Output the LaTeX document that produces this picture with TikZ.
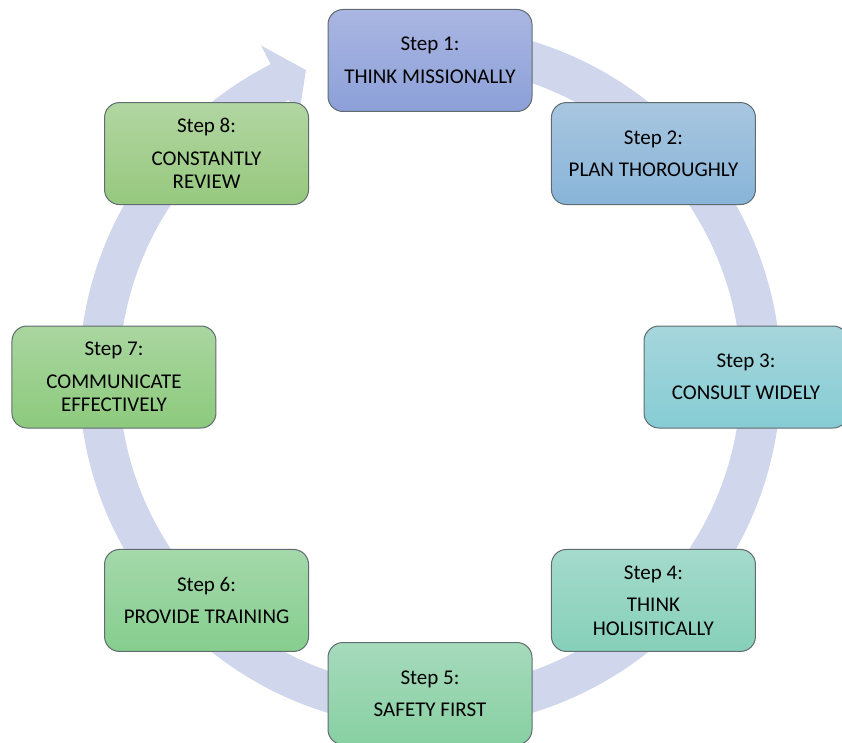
\documentclass[tikz,border=0pt]{standalone}
\usepackage{fontspec}
\setmainfont{Carlito}
\definecolor{bandc}{RGB}{208,214,236}
\definecolor{edgec}{RGB}{96,108,112}
\tikzset{
  stepbox/.style={draw=edgec, line width=1pt, rounded corners=15pt,
    minimum width=204pt, minimum height=102pt, align=center, text=black,
    font=\fontsize{21}{23.5}\selectfont, inner sep=2pt},
}
\begin{document}
\begin{tikzpicture}[x=1pt,y=1pt]
\useasboundingbox (-430,-365) rectangle (412,377);
% circular arrow band
\fill[bandc] (80:351pt) arc[start angle=80, end angle=-243, radius=351pt]
  -- (117:372pt) -- (112:331pt) -- (117:290pt)
  -- (117:311pt) arc[start angle=-243, end angle=80, radius=311pt] -- cycle;
% boxes
\node[stepbox, top color={rgb,255:red,170;green,182;blue,226}, bottom color={rgb,255:red,140;green,160;blue,216}] (s1) at (90:316.5pt) {Step 1:\\[9pt]THINK MISSIONALLY};
\node[stepbox, top color={rgb,255:red,168;green,198;blue,224}, bottom color={rgb,255:red,136;green,180;blue,216}] (s2) at (45:316pt) {Step 2:\\[9pt]PLAN THOROUGHLY};
\node[stepbox, top color={rgb,255:red,166;green,214;blue,220}, bottom color={rgb,255:red,134;green,204;blue,212}] (s3) at (0:316pt) {Step 3:\\[9pt]CONSULT WIDELY};
\node[stepbox, top color={rgb,255:red,164;green,218;blue,204}, bottom color={rgb,255:red,134;green,208;blue,184}] (s4) at (-45:316pt) {Step 4:\\[9pt]THINK\\HOLISITICALLY};
\node[stepbox, top color={rgb,255:red,166;green,218;blue,188}, bottom color={rgb,255:red,136;green,208;blue,162}] (s5) at (-90:316.5pt) {Step 5:\\[9pt]SAFETY FIRST};
\node[stepbox, top color={rgb,255:red,164;green,216;blue,170}, bottom color={rgb,255:red,134;green,206;blue,142}] (s6) at (-135:316pt) {Step 6:\\[9pt]PROVIDE TRAINING};
\node[stepbox, top color={rgb,255:red,170;green,214;blue,160}, bottom color={rgb,255:red,140;green,202;blue,124}] (s7) at (180:316pt) {Step 7:\\[9pt]COMMUNICATE\\EFFECTIVELY};
\node[stepbox, top color={rgb,255:red,178;green,214;blue,162}, bottom color={rgb,255:red,150;green,200;blue,126}] (s8) at (135:316pt) {Step 8:\\[9pt]CONSTANTLY\\REVIEW};
\end{tikzpicture}
\end{document}
